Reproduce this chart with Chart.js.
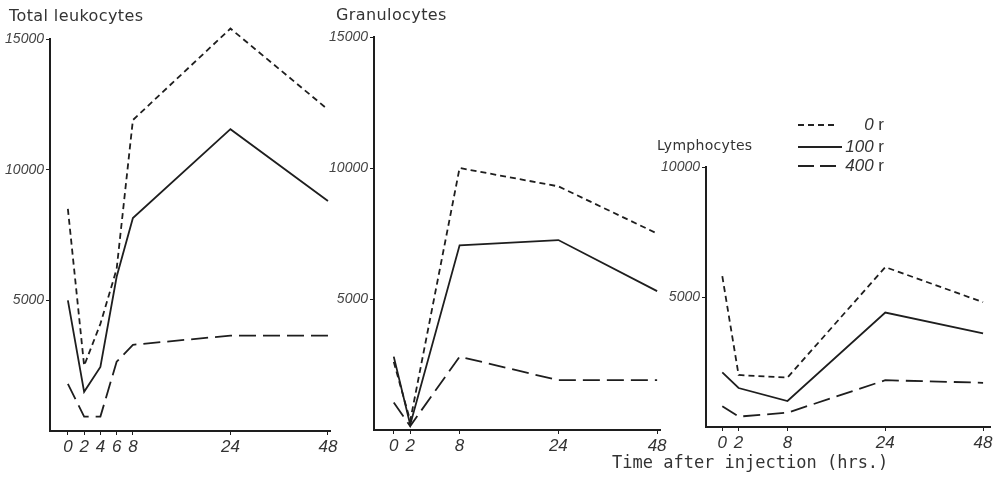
<!DOCTYPE html>
<html>
<head>
<meta charset="utf-8">
<script src="https://cdn.jsdelivr.net/npm/chart.js@4.4.1/dist/chart.umd.min.js"></script>
<style>
  body { margin: 0; background: #fff; }
  #wrap { position: relative; width: 994px; height: 478px; overflow: hidden; font-family: 'DejaVu Sans', sans-serif; color: #222; }
  #wrap canvas { position: absolute; left: 0; top: 0; }
  .title { position: absolute; font-size: 16px; color: #333; white-space: nowrap; letter-spacing: 0.4px; }
  .xlabel { position: absolute; left: 612px; top: 452px; font-family: 'DejaVu Sans Mono', monospace; font-size: 17px; color: #333; white-space: nowrap; }
  .leg { position: absolute; left: 798px; width: 90px; height: 20px; }
  .leg .s { position: absolute; left: 0; top: 9px; height: 2px; }
  .leg .t { position: absolute; right: 4px; top: 0; font-size: 17px; line-height: 20px; color: #333; font-family: 'Liberation Sans', sans-serif; }
</style>
</head>
<body>
<div id="wrap">
  <canvas id="c1" width="994" height="478"></canvas>
  <canvas id="c2" width="994" height="478"></canvas>
  <canvas id="c3" width="994" height="478"></canvas>
  <div class="title" style="left:9px; top:6px;">Total leukocytes</div>
  <div class="title" style="left:336px; top:5px;">Granulocytes</div>
  <div class="title" style="left:657px; top:137px; font-size:14px; letter-spacing:0.3px;">Lymphocytes</div>
  <div class="leg" style="top:115px;"><div class="s" style="width:38px; background:repeating-linear-gradient(to right,#222 0 6px,transparent 6px 10px);"></div><div class="t"><i>0</i> r</div></div>
  <div class="leg" style="top:137px;"><div class="s" style="width:44px; background:#222;"></div><div class="t"><i>100</i> r</div></div>
  <div class="leg" style="top:156px;"><div class="s" style="width:44px; background:repeating-linear-gradient(to right,#222 0 16px,transparent 16px 22px);"></div><div class="t"><i>400</i> r</div></div>
  <div class="xlabel">Time after injection (hrs.)</div>
</div>
<script>
// ---- data ----
const hours1 = [0, 2, 4, 6, 8, 24, 48];
const total0r = [8500, 2500, 4100, 6200, 11900, 15400, 12300];
const total100r = [5000, 1500, 2450, 5900, 8150, 11550, 8800];
const total400r = [1800, 550, 550, 2650, 3300, 3650, 3650];

const hours2 = [0, 2, 8, 24, 48];
const gran0r = [2600, 350, 10000, 9300, 7500];
const gran100r = [2800, 200, 7050, 7250, 5300];
const gran400r = [1050, 150, 2800, 1900, 1900];

const hours3 = [0, 2, 8, 24, 48];
const lymph0r = [5800, 2000, 1900, 6150, 4800];
const lymph100r = [2100, 1500, 1000, 4400, 3600];
const lymph400r = [800, 400, 550, 1800, 1700];

const yTicks1 = [5000, 10000, 15000];
const yTicks2 = [5000, 10000, 15000];
const yTicks3 = [5000, 10000];

const INK = '#1e1e1e';
const TICK_FONT = 'Liberation Sans';

// the time axis of the original is stretched: 0-8 h wide, then compressed
function hourToSlot(h) {
    if (h <= 8) return h / 2;
    if (h <= 24) return 4 + (h - 8) * 6 / 16;
    return 10 + (h - 24) * 6 / 24;
}
function slotToHour(s) {
    if (s <= 4) return s * 2;
    if (s <= 10) return 8 + (s - 4) * 16 / 6;
    return 24 + (s - 10) * 24 / 6;
}

class HourScale extends Chart.LinearScale {
    static id = 'hours';
    static defaults = {};
    buildTicks() { return []; }
    getPixelForValue(v) {
        if (v === null || v === undefined) return NaN;
        const a = hourToSlot(this.min), b = hourToSlot(this.max);
        return this.getPixelForDecimal((hourToSlot(v) - a) / (b - a));
    }
    getValueForPixel(p) {
        const a = hourToSlot(this.min), b = hourToSlot(this.max);
        return slotToHour(a + this.getDecimalForPixel(p) * (b - a));
    }
}
Chart.register(HourScale);

function series(hours, vals) {
    return hours.map((h, i) => ({ x: h, y: vals[i] }));
}

function makePanel(id, hours, s0, s100, s400, xMin, xMax, yMax, yTicks, pad) {
    const ctx = document.getElementById(id).getContext('2d');
    const common = { borderColor: INK, borderWidth: 1.8, pointRadius: 0, tension: 0, fill: false, clip: false };
    return new Chart(ctx, {
        type: 'line',
        data: {
            datasets: [
                Object.assign({ label: '0 r', data: series(hours, s0), borderDash: [6, 4] }, common),
                Object.assign({ label: '100 r', data: series(hours, s100) }, common),
                Object.assign({ label: '400 r', data: series(hours, s400), borderDash: [17, 7] }, common)
            ]
        },
        options: {
            responsive: false,
            animation: false,
            layout: { padding: pad },
            plugins: { legend: { display: false }, tooltip: { enabled: false } },
            scales: {
                x: {
                    type: 'hours',
                    min: xMin,
                    max: xMax,
                    afterBuildTicks: function(scale) {
                        scale.ticks = hours.map(v => ({ value: v }));
                    },
                    afterFit: function(scale) {
                        scale.height = 30;
                        scale.paddingLeft = 0;
                        scale.paddingRight = 0;
                    },
                    ticks: {
                        autoSkip: false,
                        maxRotation: 0,
                        padding: 2,
                        color: '#333',
                        font: { family: TICK_FONT, size: 17, style: 'italic' },
                        callback: v => String(v)
                    },
                    grid: { drawOnChartArea: false, tickLength: 4, color: INK },
                    border: { color: INK, width: 2 }
                },
                y: {
                    min: 0,
                    max: yMax,
                    afterBuildTicks: function(scale) {
                        scale.ticks = yTicks.map(v => ({ value: v }));
                    },
                    afterFit: function(scale) {
                        scale.width = 50;
                        scale.paddingTop = 0;
                        scale.paddingBottom = 0;
                    },
                    ticks: {
                        padding: 2,
                        color: '#444',
                        font: { family: TICK_FONT, size: 14, style: 'italic' },
                        callback: v => String(v)
                    },
                    grid: { drawOnChartArea: false, tickLength: 4, color: INK },
                    border: { color: INK, width: 2 }
                }
            }
        }
    });
}

makePanel('c1', hours1, total0r, total100r, total400r, -2.2, 48.5, 15000, yTicks1,
    { left: 0, right: 664, top: 39, bottom: 17 });
makePanel('c2', hours2, gran0r, gran100r, gran400r, -2.4, 48.7, 15000, yTicks2,
    { left: 324, right: 334, top: 37, bottom: 18 });
makePanel('c3', hours3, lymph0r, lymph100r, lymph400r, -2.0, 49.7, 10000, yTicks3,
    { left: 656, right: 4, top: 167, bottom: 21 });
</script>
</body>
</html>
